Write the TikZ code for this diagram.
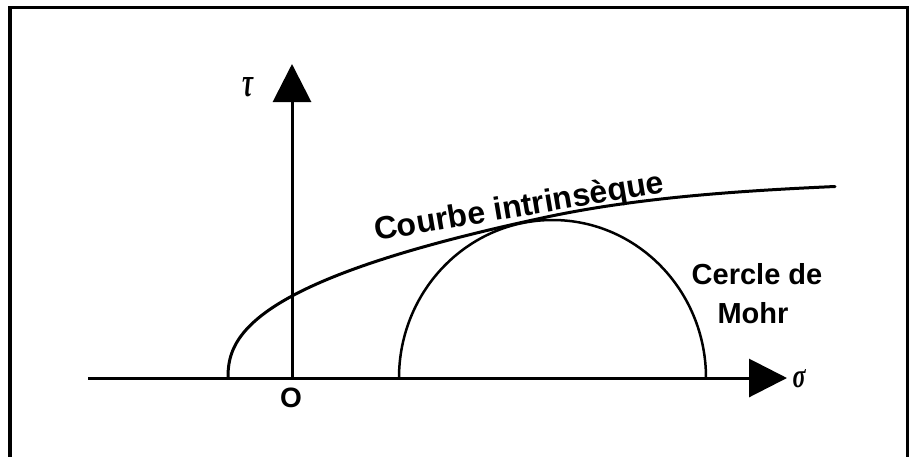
\documentclass[tikz,border=0pt]{standalone}
\usepackage{fontspec}
\usepackage{graphicx}
\setmainfont{Liberation Sans}
\newfontfamily\grk{Liberation Serif}
\usetikzlibrary{arrows.meta}
\begin{document}
\begin{tikzpicture}[x=1pt,y=-1pt,
  axisline/.style={line width=3pt,-{Triangle[length=38pt,width=38pt]}},
  lbl/.style={font=\fontsize{29}{33}\selectfont\bfseries,inner sep=0pt},
  grklbl/.style={inner sep=0pt},
  curveline/.style={line width=3pt,line cap=round,line join=round},
  circline/.style={line width=2.5pt}]
\useasboundingbox (0,0) rectangle (909,456);
\clip (0,0) rectangle (909,456);
% frame
\draw[line width=3.5pt] (10,7.5) rectangle (907.5,470);
% axes
\coordinate (xs) at (88,378);
\coordinate (xe) at (787,378);
\coordinate (org) at (292,378);
\coordinate (ye) at (292,64);
\draw[axisline] (xs) -- (xe);
\draw[axisline] (org) -- (ye);
% Mohr circle
\coordinate (cl) at (399,378);
\draw[circline] (cl) arc[start angle=180,end angle=0,x radius=153.5pt,y radius=158pt];
% intrinsic curve
\coordinate (cs) at (228,378);
\coordinate (ce) at (835,186.5);
\draw[curveline] (cs) -- plot[domain=0.5:160,samples=80,variable=\h] ({228+64*pow(\h/82,2.38)},{378-\h})
  .. controls (634,198) and (735,191) .. (ce);
% labels
\node[lbl,font=\fontsize{32}{36}\selectfont\bfseries,anchor=base west,rotate=9.6] (ci) at (376,241) {Courbe intrinsèque};
\node[lbl,anchor=base] (cm1) at (757,284) {Cercle de};
\node[lbl,anchor=base] (cm2) at (753,323) {Mohr};
\node[lbl,font=\fontsize{28}{32}\selectfont\bfseries,anchor=base] (o) at (291,407) {O};
\node[grklbl] (tau) at (248,87.5) {\resizebox{11pt}{19pt}{\grk\bfseries\itshape τ}};
\node[grklbl] (sig) at (799,379) {\resizebox{13pt}{18pt}{\grk\bfseries\itshape σ}};
\end{tikzpicture}
\end{document}
